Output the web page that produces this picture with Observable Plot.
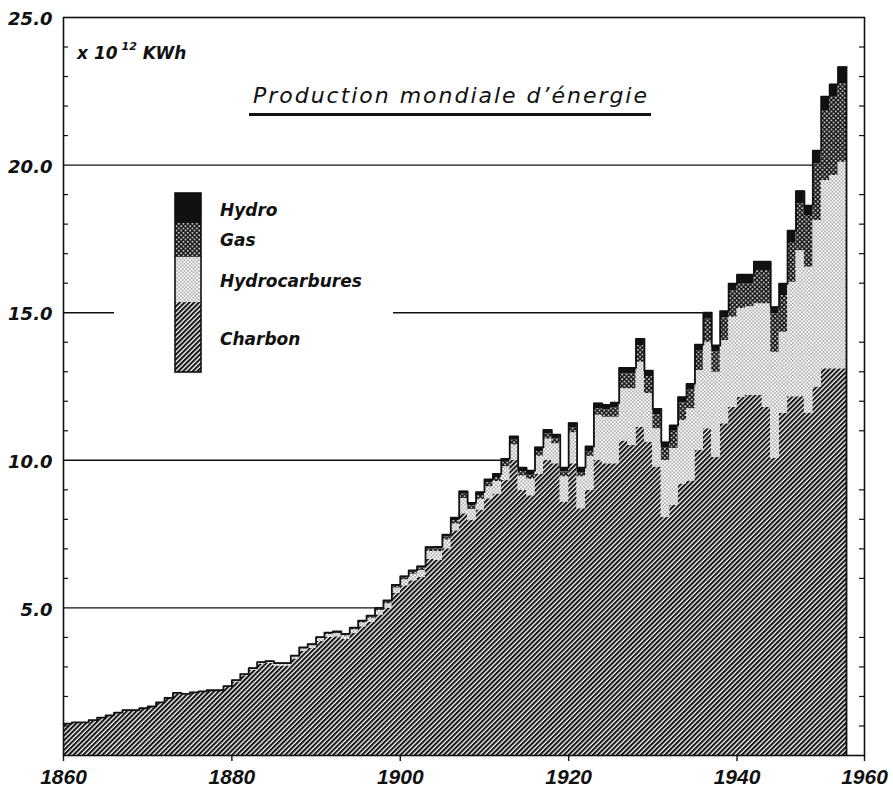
<!DOCTYPE html>
<html>
<head>
<meta charset="utf-8">
<script src="https://cdn.jsdelivr.net/npm/d3@7"></script>
<script src="https://cdn.jsdelivr.net/npm/@observablehq/plot@0.6"></script>
<style>
  body { margin: 0; background: #fff; }
  #wrap { position: relative; width: 893px; height: 791px; }
  .overlay { position: absolute; left: 0; top: 0; pointer-events: none; }
</style>
</head>
<body>
<svg width="0" height="0" style="position:absolute">
  <defs>
    <pattern id="pat-charbon" patternUnits="userSpaceOnUse" width="3.4" height="3.4" patternTransform="rotate(45)">
      <rect width="3.4" height="3.4" fill="#fff"/>
      <rect width="2.1" height="3.4" fill="#151515"/>
    </pattern>
    <pattern id="pat-hydrocarbures" patternUnits="userSpaceOnUse" width="3.6" height="3.6">
      <rect width="3.6" height="3.6" fill="#fff"/>
      <circle cx="0.9" cy="0.9" r="0.6" fill="#222"/>
      <circle cx="2.7" cy="2.7" r="0.6" fill="#222"/>
    </pattern>
    <pattern id="pat-gas" patternUnits="userSpaceOnUse" width="4.5" height="4.5">
      <rect width="4.5" height="4.5" fill="#151515"/>
      <circle cx="1.1" cy="1.1" r="0.9" fill="#fff"/>
      <circle cx="3.35" cy="3.35" r="0.9" fill="#fff"/>
    </pattern>
  </defs>
</svg>
<div id="wrap"></div>
<script>
// ---- data (10^12 kWh) ----
const years = [
  1860,1861,1862,1863,1864,1865,1866,1867,1868,1869,
  1870,1871,1872,1873,1874,1875,1876,1877,1878,1879,
  1880,1881,1882,1883,1884,1885,1886,1887,1888,1889,
  1890,1891,1892,1893,1894,1895,1896,1897,1898,1899,
  1900,1901,1902,1903,1904,1905,1906,1907,1908,1909,
  1910,1911,1912,1913,1914,1915,1916,1917,1918,1919,
  1920,1921,1922,1923,1924,1925,1926,1927,1928,1929,
  1930,1931,1932,1933,1934,1935,1936,1937,1938,1939,
  1940,1941,1942,1943,1944,1945,1946,1947,1948,1949,
  1950,1951,1952
];
const charbon = [
  1.07,1.11,1.11,1.19,1.27,1.35,1.44,1.53,1.53,1.59,
  1.64,1.78,1.93,2.09,2.06,2.11,2.14,2.17,2.17,2.30,
  2.49,2.70,2.89,3.08,3.12,3.03,3.03,3.27,3.53,3.63,
  3.86,4.00,4.02,3.93,4.14,4.36,4.51,4.76,4.98,5.50,
  5.75,5.92,6.03,6.65,6.61,7.00,7.61,8.19,7.97,8.32,
  8.70,8.86,9.32,10.00,8.98,8.80,9.54,9.99,9.88,8.59,
  9.88,8.36,8.98,9.99,9.88,9.88,10.65,10.50,11.12,10.60,
  9.77,8.07,8.47,9.20,9.30,10.33,11.07,10.10,11.24,11.80,
  12.14,12.20,12.20,11.80,10.06,11.59,12.15,12.15,11.60,12.48,
  13.10,13.10,13.10
];
const hydrocarbures = [
  0.01,0.01,0.01,0.01,0.01,0.01,0.01,0.01,0.01,0.01,
  0.02,0.02,0.02,0.03,0.03,0.03,0.03,0.04,0.04,0.05,
  0.05,0.05,0.06,0.06,0.06,0.07,0.07,0.07,0.08,0.09,
  0.10,0.10,0.11,0.12,0.12,0.13,0.14,0.15,0.16,0.17,
  0.20,0.22,0.24,0.26,0.30,0.30,0.23,0.52,0.36,0.36,
  0.40,0.42,0.46,0.52,0.49,0.56,0.60,0.73,0.68,0.85,
  1.05,1.08,1.15,1.54,1.58,1.58,1.77,1.92,2.20,1.66,
  1.30,1.92,1.93,2.15,2.45,2.71,2.93,2.88,2.82,3.05,
  3.00,3.00,3.10,3.50,3.60,2.75,3.88,4.95,4.94,5.64,
  6.38,6.55,7.00
];
const gas = [
  0,0,0,0,0,0,0,0,0,0,
  0,0,0,0,0,0,0,0,0,0,
  0.01,0.01,0.01,0.02,0.02,0.02,0.02,0.03,0.03,0.03,
  0.03,0.04,0.04,0.04,0.04,0.05,0.05,0.05,0.06,0.06,
  0.07,0.07,0.08,0.08,0.09,0.10,0.12,0.14,0.13,0.13,
  0.14,0.14,0.15,0.16,0.15,0.16,0.16,0.17,0.17,0.16,
  0.17,0.15,0.17,0.22,0.24,0.31,0.51,0.51,0.57,0.58,
  0.47,0.42,0.58,0.59,0.64,0.68,0.78,0.69,0.77,0.89,
  0.85,0.79,1.13,1.13,1.30,1.24,1.35,1.59,1.75,1.92,
  2.37,2.65,2.66
];
const hydro = [
  0,0,0,0,0,0,0,0,0,0,
  0,0,0,0,0,0,0,0,0,0,
  0,0,0,0,0,0.01,0.01,0.01,0.02,0.02,
  0.02,0.02,0.03,0.03,0.03,0.03,0.04,0.04,0.05,0.05,
  0.05,0.06,0.06,0.07,0.07,0.08,0.10,0.10,0.10,0.11,
  0.11,0.12,0.12,0.13,0.13,0.13,0.14,0.14,0.14,0.15,
  0.16,0.16,0.17,0.18,0.18,0.18,0.20,0.20,0.22,0.20,
  0.20,0.20,0.20,0.20,0.20,0.20,0.22,0.22,0.22,0.24,
  0.30,0.30,0.30,0.30,0.23,0.40,0.40,0.43,0.34,0.45,
  0.47,0.43,0.56
];
const layerNames = ["Charbon", "Hydrocarbures", "Gas", "Hydro"];
const layerFills = ["url(#pat-charbon)", "url(#pat-hydrocarbures)", "url(#pat-gas)", "#111"];
const yTicks = [5, 10, 15, 20, 25];
const xTicks = [1860, 1880, 1900, 1920, 1940, 1960];
const unitText = ["x 10", "12", " KWh"];
const titleText = "Production mondiale d\u2019énergie";

// ---- derived tables ----
const series = [charbon, hydrocarbures, gas, hydro];
const endYear = years[years.length - 1] + 1;
const rows = [];
series.forEach((vals, k) => {
  years.forEach((yr, i) => rows.push({year: yr, layer: layerNames[k], value: vals[i]}));
  rows.push({year: endYear, layer: layerNames[k], value: vals[vals.length - 1]});
});
const totals = years.map((yr, i) => ({year: yr, total: d3.sum(series, s => s[i])}));
const outline = [...totals, {year: endYear, total: totals[totals.length - 1].total}];
const grid = yTicks.slice(0, 4).map(v => {
  const hit = totals.find(t => t.total >= v - 1e-9);
  return {v, end: hit ? hit.year : endYear};
});
const minor = d3.range(1, 25).filter(v => v % 5 !== 0);

const ink = "#111";
const plot = Plot.plot({
  width: 893,
  height: 791,
  marginLeft: 63,
  marginRight: 29,
  marginTop: 17,
  marginBottom: 36,
  x: {type: "linear", domain: [1860, endYear, 1960], range: [63, 846, 864]},
  y: {type: "linear", domain: [0, 25]},
  color: {type: "ordinal", domain: layerNames, range: layerFills},
  marks: [
    Plot.ruleY(grid, {y: "v", x1: years[0], x2: "end", stroke: ink, strokeWidth: 1.4}),
    Plot.areaY(rows, {x: "year", y: "value", fill: "layer", curve: "step-after"}),
    Plot.lineY(outline, {x: "year", y: "total", curve: "step-after", stroke: ink, strokeWidth: 1.8}),
    Plot.ruleX([outline[outline.length - 1]], {x: "year", y1: 0, y2: "total", stroke: ink, strokeWidth: 1.8}),
    Plot.frame({stroke: ink, strokeWidth: 1.6}),
    Plot.axisY(minor, {anchor: "left", tickSize: -5, tickFormat: () => "", stroke: ink, strokeWidth: 1.2}),
    Plot.axisY(minor, {anchor: "right", tickSize: -6, tickFormat: () => "", stroke: ink, strokeWidth: 1.2}),
    Plot.axisY(yTicks, {anchor: "left", tickSize: 0, tickPadding: 11, label: null,
      tickFormat: d => d.toFixed(1), fontSize: 18, fontFamily: "DejaVu Sans",
      fontStyle: "italic", fontWeight: "bold", fill: ink, dy: 2}),
    Plot.axisX(xTicks, {anchor: "bottom", tickSize: 6, tickPadding: 8, label: null,
      tickFormat: d => String(d), fontSize: 21, fontFamily: "Liberation Sans",
      fontStyle: "italic", fontWeight: "bold", fill: ink, stroke: ink, strokeWidth: 1.4})
  ]
});
const wrap = document.getElementById("wrap");
wrap.appendChild(plot);

// ---- overlay: unit, title, legend ----
const ov = d3.select(wrap).append("svg").attr("class", "overlay")
  .attr("width", 893).attr("height", 791);

const unit = ov.append("text").attr("x", 77).attr("y", 59)
  .attr("font-family", "DejaVu Sans").attr("font-style", "italic").attr("font-weight", "bold")
  .attr("font-size", 17).attr("fill", ink);
unit.append("tspan").text(unitText[0]);
unit.append("tspan").attr("dx", 4).attr("dy", -9).attr("font-size", 11).text(unitText[1]);
unit.append("tspan").attr("dy", 9).attr("xml:space", "preserve").text(unitText[2]);

ov.append("text").attr("x", 253).attr("y", 103)
  .attr("font-family", "DejaVu Sans").attr("font-style", "italic")
  .attr("font-size", 22).attr("fill", ink)
  .attr("textLength", 394).attr("lengthAdjust", "spacing")
  .text(titleText);
ov.append("rect").attr("x", 249).attr("y", 113).attr("width", 402).attr("height", 3).attr("fill", ink);

// legend
ov.append("rect").attr("x", 114).attr("y", 186).attr("width", 279).attr("height", 194).attr("fill", "#fff");
const legendRows = [
  {name: "Hydro", fill: layerFills[3], y0: 193, y1: 223, ty: 216},
  {name: "Gas", fill: layerFills[2], y0: 223, y1: 257, ty: 246},
  {name: "Hydrocarbures", fill: layerFills[1], y0: 257, y1: 302, ty: 287},
  {name: "Charbon", fill: layerFills[0], y0: 302, y1: 372, ty: 345}
];
legendRows.forEach(r => {
  ov.append("rect").attr("x", 175).attr("y", r.y0).attr("width", 26).attr("height", r.y1 - r.y0)
    .attr("fill", r.fill);
  ov.append("text").attr("x", 220).attr("y", r.ty)
    .attr("font-family", "DejaVu Sans").attr("font-style", "italic").attr("font-weight", "bold")
    .attr("font-size", 17).attr("fill", ink).text(r.name);
});
ov.append("rect").attr("x", 175).attr("y", 193).attr("width", 26).attr("height", 179)
  .attr("fill", "none").attr("stroke", ink).attr("stroke-width", 1.6);
</script>
</body>
</html>
